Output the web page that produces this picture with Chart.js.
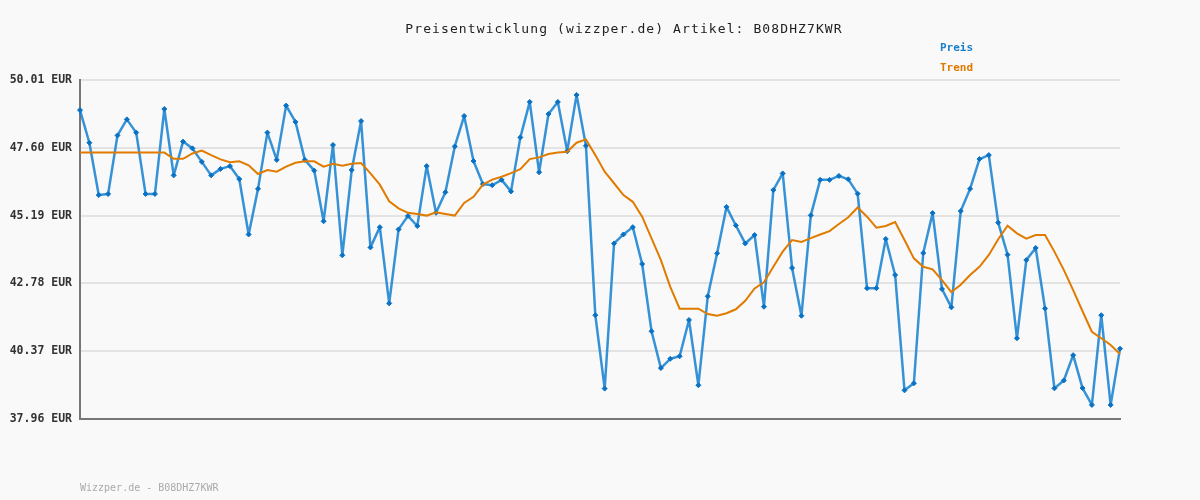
<!DOCTYPE html>
<html>
<head>
<meta charset="utf-8">
<script src="https://cdn.jsdelivr.net/npm/chart.js@4"></script>
<style>
  body { margin: 0; background: #f9f9f9; }
  #wrap { position: relative; width: 1200px; height: 500px; background: #f9f9f9; font-family: 'DejaVu Sans Mono', monospace; }
  #title { position: absolute; top: 21px; left: 0; width: 1248px; text-align: center; font-size: 13px; letter-spacing: 1.1px; color: #222; }
  .leg { position: absolute; left: 940px; font-size: 11px; font-weight: bold; }
  #footer { position: absolute; left: 80px; top: 482px; font-size: 10px; color: #aaa; }
</style>
</head>
<body>
<div id="wrap">
  <canvas id="priceChart" width="1200" height="500"></canvas>
  <div id="title">Preisentwicklung (wizzper.de) Artikel: B08DHZ7KWR</div>
  <div class="leg" style="top:41px;color:#1a7fca">Preis</div>
  <div class="leg" style="top:61px;color:#e07b00">Trend</div>
  <div id="footer">Wizzper.de - B08DHZ7KWR</div>
</div>
<script>
// Data
const preis = [
    48.94, 47.78, 45.92, 45.96, 48.04, 48.61, 48.14, 45.96, 45.96, 48.98, 46.62, 47.82, 47.58, 47.10,
    46.62, 46.85, 46.95, 46.49, 44.52, 46.14, 48.14, 47.17, 49.10, 48.52, 47.17, 46.79, 44.99, 47.70,
    43.78, 46.81, 48.55, 44.06, 44.78, 42.07, 44.70, 45.18, 44.82, 46.95, 45.29, 46.02, 47.65, 48.73,
    47.13, 46.31, 46.27, 46.46, 46.05, 47.97, 49.23, 46.73, 48.80, 49.23, 47.48, 49.48, 47.67, 41.65,
    39.04, 44.20, 44.52, 44.78, 43.47, 41.08, 39.77, 40.10, 40.19, 41.48, 39.16, 42.32, 43.85, 45.50,
    44.84, 44.20, 44.50, 41.95, 46.10, 46.69, 43.33, 41.63, 45.20, 46.46, 46.46, 46.60, 46.48, 45.97,
    42.61, 42.61, 44.36, 43.08, 38.98, 39.23, 43.86, 45.28, 42.58, 41.93, 45.35, 46.14, 47.20, 47.34,
    44.94, 43.80, 40.83, 43.61, 44.04, 41.89, 39.05, 39.33, 40.23, 39.06, 38.46, 41.65, 38.46, 40.46
];
const trend = [
    47.43, 47.43, 47.43, 47.43, 47.43, 47.43, 47.43, 47.43, 47.43, 47.43, 47.21, 47.21, 47.40, 47.50,
    47.34, 47.19, 47.09, 47.12, 46.98, 46.67, 46.81, 46.75, 46.93, 47.07, 47.12, 47.12, 46.93, 47.03,
    46.96, 47.03, 47.06, 46.69, 46.29, 45.70, 45.45, 45.29, 45.25, 45.19, 45.31, 45.25, 45.19, 45.64,
    45.86, 46.29, 46.47, 46.57, 46.70, 46.84, 47.20, 47.26, 47.38, 47.43, 47.46, 47.78, 47.90, 47.34,
    46.75, 46.34, 45.92, 45.68, 45.15, 44.38, 43.61, 42.66, 41.88, 41.88, 41.88, 41.69, 41.63, 41.72,
    41.86, 42.16, 42.60, 42.82, 43.37, 43.91, 44.32, 44.25, 44.39, 44.52, 44.64, 44.89, 45.13, 45.48,
    45.15, 44.76, 44.82, 44.96, 44.32, 43.67, 43.37, 43.28, 42.90, 42.47, 42.73, 43.08, 43.37, 43.79,
    44.35, 44.83, 44.56, 44.37, 44.50, 44.50, 43.91, 43.26, 42.54, 41.79, 41.06, 40.83, 40.59, 40.27
];
const yTicks = [37.96, 40.37, 42.78, 45.19, 47.60, 50.01];
const labels = preis.map((_, i) => i + 1);

const ctx = document.getElementById('priceChart').getContext('2d');
new Chart(ctx, {
    type: 'line',
    data: {
        labels: labels,
        datasets: [{
            label: 'Trend',
            data: trend,
            borderColor: '#e07b00',
            borderWidth: 2,
            pointRadius: 0,
            tension: 0
        }, {
            label: 'Preis',
            data: preis,
            borderColor: 'rgba(20, 128, 208, 0.85)',
            borderWidth: 2.5,
            borderJoinStyle: 'round',
            pointStyle: 'rectRot',
            pointRadius: 2.5,
            pointBackgroundColor: '#0a72c4',
            pointBorderColor: '#0a72c4',
            pointBorderWidth: 1,
            tension: 0
        }]
    },
    options: {
        responsive: false,
        animation: false,
        layout: { padding: { top: 80, right: 80, bottom: 81, left: 0 } },
        scales: {
            x: {
                grid: { display: false },
                ticks: { display: false },
                border: { color: '#777', width: 2 },
                afterFit: function (scale) { scale.height = 0; }
            },
            y: {
                min: 37.96,
                max: 50.01,
                afterBuildTicks: function (scale) {
                    scale.ticks = yTicks.map(v => ({ value: v }));
                },
                afterFit: function (scale) { scale.width = 80; },
                grid: { color: '#e3e3e3', lineWidth: 2, drawTicks: false },
                border: { color: '#777', width: 2 },
                ticks: {
                    padding: 8,
                    color: '#333',
                    font: { family: "'DejaVu Sans Mono', monospace", size: 11.5, weight: 'bold' },
                    callback: function (value) { return value.toFixed(2) + ' EUR'; }
                }
            }
        },
        plugins: {
            legend: { display: false },
            title: { display: false },
            tooltip: { enabled: false }
        }
    }
});
</script>
</body>
</html>
